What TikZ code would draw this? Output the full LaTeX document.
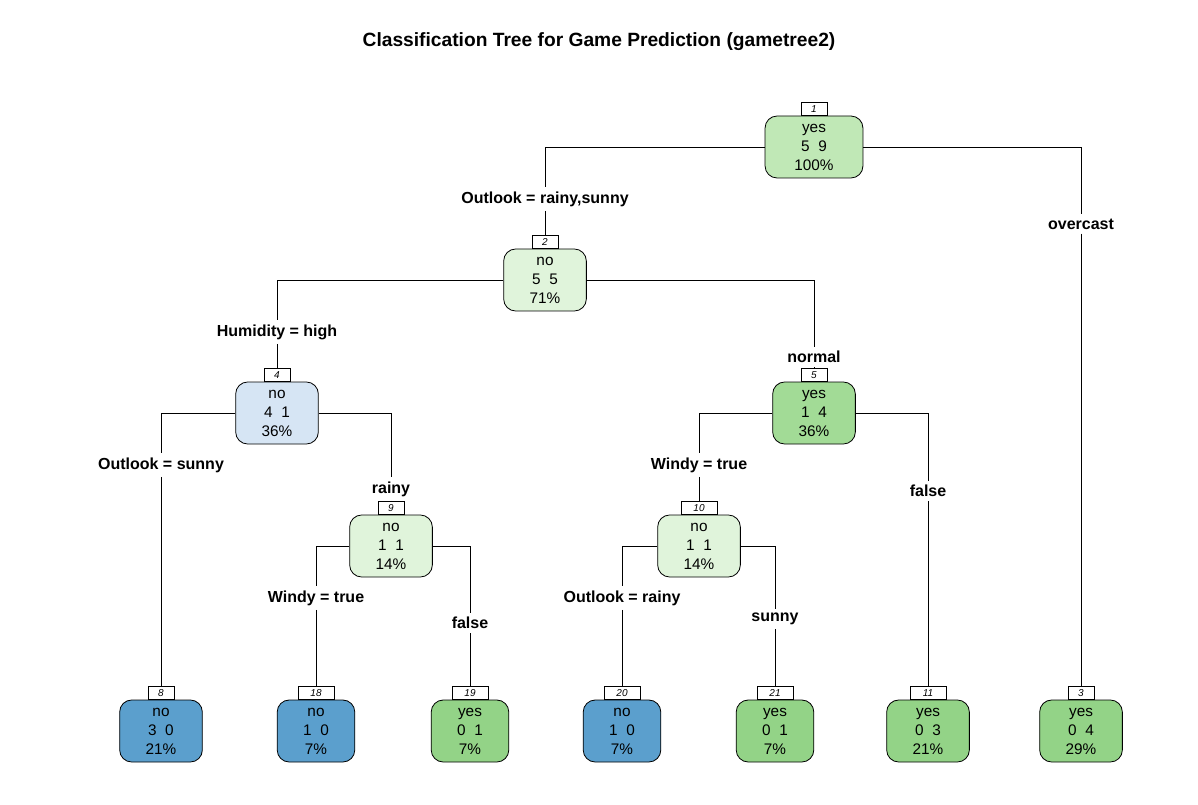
\documentclass[tikz,border=0pt]{standalone}
\usepackage{fontspec}
\setmainfont{Liberation Sans}
\usetikzlibrary{positioning}
\definecolor{greenA}{RGB}{192,232,182}
\definecolor{greenB}{RGB}{224,244,219}
\definecolor{greenC}{RGB}{162,219,150}
\definecolor{greenD}{RGB}{147,211,135}
\definecolor{blueA}{RGB}{214,229,244}
\definecolor{blueD}{RGB}{91,159,205}

\begin{document}
\begin{tikzpicture}[x=0.75pt, y=-0.75pt, line width=0.6pt,
    every node/.style={font=\fontsize{11.5}{14.25}\selectfont},
    split/.style={draw, rounded corners=9pt, align=center, inner xsep=19.5pt,
        inner ysep=0pt, minimum height=46.5pt},
    nbox/.style={draw, fill=white, font=\fontsize{7.5}{8}\selectfont\itshape,
        inner sep=0pt, minimum width=19.5pt, minimum height=9.75pt},
    cond/.style={font=\fontsize{12}{13}\selectfont\bfseries, inner sep=3pt,
        yshift=-1.5pt}]

    \useasboundingbox (0,0) rectangle (1198,805);

    % 标题
    \node[font=\fontsize{14.4}{16}\selectfont\bfseries] (title) at (599,42)
        {Classification Tree for Game Prediction (gametree2)};

    % 内部节点
    \node[split, fill=greenA, inner xsep=22pt] at (814,147) (n1) {yes\\5\ \ 9\\100\%};
    \node[split, fill=greenB] at (545,280) (n2) {no\\5\ \ 5\\71\%};
    \node[split, fill=blueA] at (277,413) (n4) {no\\4\ \ 1\\36\%};
    \node[split, fill=greenC] at (814,413) (n5) {yes\\1\ \ 4\\36\%};
    \node[split, fill=greenB] at (391,546) (n9) {no\\1\ \ 1\\14\%};
    \node[split, fill=greenB] at (699,546) (n10) {no\\1\ \ 1\\14\%};

    % 叶节点
    \node[split, fill=blueD] at (161,731) (n8) {no\\3\ \ 0\\21\%};
    \node[split, fill=blueD] at (316,731) (n18) {no\\1\ \ 0\\7\%};
    \node[split, fill=greenD] at (470,731) (n19) {yes\\0\ \ 1\\7\%};
    \node[split, fill=blueD] at (622,731) (n20) {no\\1\ \ 0\\7\%};
    \node[split, fill=greenD] at (775,731) (n21) {yes\\0\ \ 1\\7\%};
    \node[split, fill=greenD] at (928,731) (n11) {yes\\0\ \ 3\\21\%};
    \node[split, fill=greenD] at (1081,731) (n3) {yes\\0\ \ 4\\29\%};

    % 节点编号
    \node[nbox, above=0pt of n1] (b1) {1};
    \node[nbox, above=0pt of n2] (b2) {2};
    \node[nbox, above=0pt of n4] (b4) {4};
    \node[nbox, above=0pt of n5] (b5) {5};
    \node[nbox, above=0pt of n9] (b9) {9};
    \node[nbox, above=0pt of n10, minimum width=27pt] (b10) {10};
    \node[nbox, above=0pt of n8] (b8) {8};
    \node[nbox, above=0pt of n18, minimum width=27pt] (b18) {18};
    \node[nbox, above=0pt of n19, minimum width=27pt] (b19) {19};
    \node[nbox, above=0pt of n20, minimum width=27pt] (b20) {20};
    \node[nbox, above=0pt of n21, minimum width=27pt] (b21) {21};
    \node[nbox, above=0pt of n11, minimum width=27pt] (b11) {11};
    \node[nbox, above=0pt of n3] (b3) {3};

    % 分裂条件
    \node[cond] at (545,197) (l2) {Outlook = rainy,sunny};
    \node[cond] at (1081,222) (l3) {overcast};
    \node[cond] at (277,330) (l4) {Humidity = high};
    \node[cond] at (814,355) (l5) {normal};
    \node[cond] at (161,463) (l8) {Outlook = sunny};
    \node[cond] at (391,487) (l9) {rainy};
    \node[cond] at (699,463) (l10) {Windy = true};
    \node[cond] at (928,489) (l11) {false};
    \node[cond] at (316,596) (l18) {Windy = true};
    \node[cond] at (470,621) (l19) {false};
    \node[cond] at (622,596) (l20) {Outlook = rainy};
    \node[cond] at (775,617) (l21) {sunny};

    % 连线
    \draw (n1.west) -| (l2.north);  \draw (l2.south) -- (b2.north);
    \draw (n1.east) -| (l3.north);  \draw (l3.south) -- (b3.north);
    \draw (n2.west) -| (l4.north);  \draw (l4.south) -- (b4.north);
    \draw (n2.east) -| (l5.north);  \draw (l5.south) -- (b5.north);
    \draw (n4.west) -| (l8.north);  \draw (l8.south) -- (b8.north);
    \draw (n4.east) -| (l9.north);  \draw (l9.south) -- (b9.north);
    \draw (n5.west) -| (l10.north); \draw (l10.south) -- (b10.north);
    \draw (n5.east) -| (l11.north); \draw (l11.south) -- (b11.north);
    \draw (n9.west) -| (l18.north); \draw (l18.south) -- (b18.north);
    \draw (n9.east) -| (l19.north); \draw (l19.south) -- (b19.north);
    \draw (n10.west) -| (l20.north); \draw (l20.south) -- (b20.north);
    \draw (n10.east) -| (l21.north); \draw (l21.south) -- (b21.north);
\end{tikzpicture}
\end{document}
